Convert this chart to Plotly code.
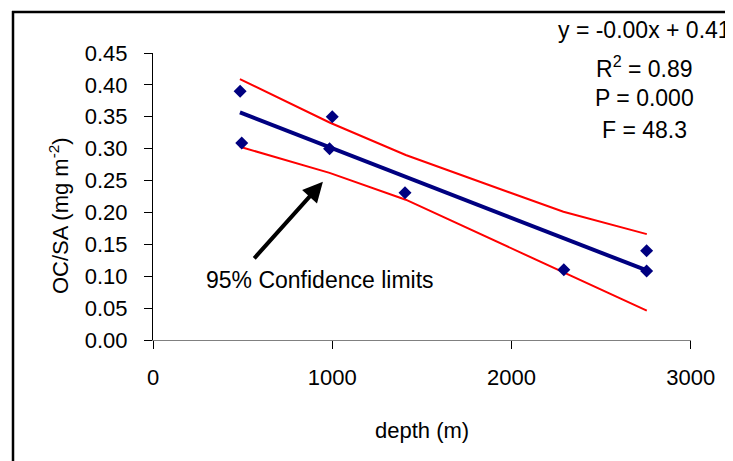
import plotly.graph_objects as go

# Data
depth = [486, 495, 985, 1000, 1406, 2292, 2754, 2754]
ocsa = [0.390, 0.309, 0.300, 0.350, 0.231, 0.110, 0.140, 0.108]

fit_depth = [485, 2755]
fit_ocsa = [0.357, 0.109]

ci_depth = [485, 985, 1410, 2290, 2755]
ci_upper = [0.409, 0.341, 0.290, 0.201, 0.166]
ci_lower = [0.303, 0.262, 0.220, 0.107, 0.046]

y_ticks = [0.00, 0.05, 0.10, 0.15, 0.20, 0.25, 0.30, 0.35, 0.40, 0.45]
x_ticks = [0, 1000, 2000, 3000]

stats_lines = ["y = -0.00x + 0.41", "R<sup>2</sup> = 0.89", "P = 0.000", "F = 48.3"]

FONT = "Liberation Sans, Arial, sans-serif"
OFF = 8  # page body margin
W, H = 733 - OFF, 461 - OFF

# convert reference-page pixel positions to paper coordinates (margins are zero)
def px_x(p):
    return (p - OFF) / W

def px_y(p):
    return (H - (p - OFF)) / H

fig = go.Figure()
fig.add_trace(go.Scatter(x=ci_depth, y=ci_upper, mode="lines",
                         line=dict(color="#FF0000", width=2), hoverinfo="skip"))
fig.add_trace(go.Scatter(x=ci_depth, y=ci_lower, mode="lines",
                         line=dict(color="#FF0000", width=2), hoverinfo="skip"))
fig.add_trace(go.Scatter(x=fit_depth, y=fit_ocsa, mode="lines",
                         line=dict(color="#000080", width=4), hoverinfo="skip"))
fig.add_trace(go.Scatter(x=depth, y=ocsa, mode="markers",
                         marker=dict(symbol="diamond", size=10, color="#000080")))

annotations = []
stat_y = [30, 67, 98, 130]
for txt, yy in zip(stats_lines, stat_y):
    annotations.append(dict(text=txt, xref="paper", yref="paper", x=px_x(644), y=px_y(yy),
                            xanchor="center", yanchor="middle", showarrow=False,
                            font=dict(family=FONT, size=23, color="black")))

annotations.append(dict(text="95% Confidence limits", xref="paper", yref="paper",
                        x=px_x(320), y=px_y(280), xanchor="center", yanchor="middle",
                        showarrow=False, font=dict(family=FONT, size=23, color="black")))
annotations.append(dict(text="", x=948, y=0.248, xref="x", yref="y", showarrow=True,
                        ax=-70, ay=78, arrowhead=2, arrowsize=1, arrowwidth=4,
                        arrowcolor="black", standoff=0, startstandoff=0))
annotations.append(dict(text="OC/SA (mg m<sup>-2</sup>)", xref="paper", yref="paper",
                        x=px_x(59), y=px_y(216), xanchor="center", yanchor="middle",
                        textangle=-90, showarrow=False,
                        font=dict(family=FONT, size=22, color="black")))
annotations.append(dict(text="depth (m)", xref="paper", yref="paper",
                        x=px_x(422), y=px_y(430), xanchor="center", yanchor="middle",
                        showarrow=False, font=dict(family=FONT, size=22, color="black")))

shapes = [
    dict(type="line", xref="paper", yref="paper", x0=px_x(13), x1=px_x(13),
         y0=0, y1=px_y(11), line=dict(color="black", width=2.5)),
    dict(type="line", xref="paper", yref="paper", x0=px_x(12), x1=1,
         y0=px_y(12), y1=px_y(12), line=dict(color="black", width=2.5)),
]

fig.update_layout(
    width=W, height=H,
    margin=dict(l=0, r=0, t=0, b=0, autoexpand=False),
    paper_bgcolor="white", plot_bgcolor="white",
    showlegend=False,
    annotations=annotations,
    shapes=shapes,
    font=dict(family=FONT, size=22, color="black"),
)
fig.update_xaxes(domain=[px_x(153), px_x(690.7)], automargin=False,
                 range=[0, 3000], tickvals=x_ticks, ticktext=[str(v) for v in x_ticks],
                 showgrid=False, zeroline=False, showline=True, linecolor="#808080",
                 linewidth=1, ticks="outside", ticklen=8, tickcolor="black",
                 ticklabelstandoff=10, tickfont=dict(family=FONT, size=22, color="black"))
fig.update_yaxes(domain=[px_y(340), px_y(53)], automargin=False,
                 range=[0, 0.45], tickvals=y_ticks, ticktext=[f"{v:.2f}" for v in y_ticks],
                 showgrid=False, zeroline=False, showline=True, linecolor="black",
                 linewidth=1, ticks="outside", ticklen=8, tickcolor="black",
                 ticklabelstandoff=12, tickfont=dict(family=FONT, size=22, color="black"))

fig.write_html("out.html")
